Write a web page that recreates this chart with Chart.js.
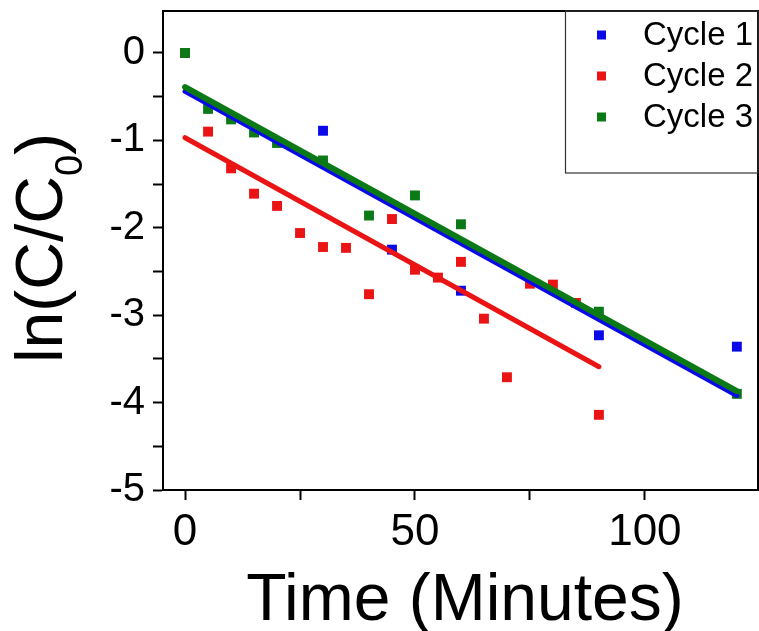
<!DOCTYPE html>
<html>
<head>
<meta charset="utf-8">
<script src="https://cdn.jsdelivr.net/npm/chart.js@4.4.1/dist/chart.umd.min.js"></script>
<style>
  html, body { margin: 0; padding: 0; background: #fff; overflow: hidden; }
  #wrap { width: 759px; height: 631px; overflow: hidden; }
  canvas { display: block; }
</style>
</head>
<body>
<div id="wrap"><canvas id="c" width="765" height="631"></canvas></div>
<script>
// values
const cycleNames = ['Cycle 1', 'Cycle 2', 'Cycle 3'];
const cycleColors = ['#0a0ae8', '#ea1414', '#0b7a16'];

const c1Time = [0, 30, 45, 60, 90, 120];
const c1Ln = [0, -0.89, -2.25, -2.72, -3.23, -3.36];

const c2Time = [0, 5, 10, 15, 20, 25, 30, 35, 40, 45, 50, 55, 60, 65, 70, 75, 80, 85, 90];
const c2Ln = [0, -0.90, -1.32, -1.61, -1.75, -2.06, -2.22, -2.23, -2.76, -1.90, -2.48, -2.57, -2.39, -3.04, -3.71, -2.64, -2.65, -2.86, -4.14];

const c3Time = [0, 5, 10, 15, 20, 30, 40, 50, 60, 90, 120];
const c3Ln = [0, -0.64, -0.76, -0.91, -1.03, -1.23, -1.86, -1.63, -1.96, -2.96, -3.90];

// linear fit end points
const fit1Time = [0, 120];
const fit1Ln = [-0.44, -3.92];
const fit2Time = [0, 90];
const fit2Ln = [-0.97, -3.59];
const fit3Time = [0, 120];
const fit3Ln = [-0.39, -3.87];

const xTickLabels = [0, 50, 100];
const yTickLabels = [0, -1, -2, -3, -4, -5];

const FONT = "'Liberation Sans', Arial, sans-serif";

function pts(xs, ys) {
  return xs.map((x, i) => ({ x: x, y: ys[i] }));
}

function scatterSet(i, xs, ys, order) {
  return {
    type: 'scatter',
    label: cycleNames[i],
    data: pts(xs, ys),
    pointStyle: 'rect',
    pointRadius: 7,
    pointBorderWidth: 0,
    backgroundColor: cycleColors[i],
    borderColor: cycleColors[i],
    order: order
  };
}

function fitSet(i, xs, ys, width, order) {
  return {
    type: 'line',
    label: cycleNames[i] + ' fit',
    data: pts(xs, ys),
    borderColor: cycleColors[i],
    borderWidth: width,
    borderCapStyle: 'round',
    pointRadius: 0,
    fill: false,
    order: order
  };
}

function noPad(s) {
  s.paddingTop = 0;
  s.paddingBottom = 0;
  s.paddingLeft = 0;
  s.paddingRight = 0;
}

// frame, legend box and axis titles
const extras = {
  id: 'extras',
  afterDraw(chart) {
    const ctx = chart.ctx;
    const a = chart.chartArea;
    ctx.save();
    ctx.strokeStyle = '#000';
    ctx.lineWidth = 2;
    ctx.beginPath();
    ctx.moveTo(a.left, a.top);
    ctx.lineTo(a.right, a.top);
    ctx.lineTo(a.right, a.bottom);
    ctx.stroke();

    // legend
    ctx.lineWidth = 1.2;
    ctx.strokeStyle = '#333';
    ctx.strokeRect(565.5, a.top, a.right - 565.5, 162);
    ctx.font = '33px ' + FONT;
    ctx.textBaseline = 'middle';
    ctx.textAlign = 'left';
    const rows = [35, 76, 117];
    cycleNames.forEach((name, i) => {
      ctx.fillStyle = cycleColors[i];
      ctx.fillRect(597, rows[i] - 4.5, 9, 9);
      ctx.fillStyle = '#000';
      ctx.fillText(name, 643, rows[i] + 1);
    });

    // x title
    ctx.font = '66px ' + FONT;
    ctx.textAlign = 'center';
    ctx.textBaseline = 'alphabetic';
    ctx.fillText('Time (Minutes)', 465, 620);

    // y title with subscript
    ctx.translate(62, 248);
    ctx.rotate(-Math.PI / 2);
    const main = 'ln(C/C';
    ctx.font = '66px ' + FONT;
    const w1 = ctx.measureText(main).width;
    ctx.font = '38px ' + FONT;
    const w2 = ctx.measureText('0').width;
    ctx.font = '66px ' + FONT;
    const w3 = ctx.measureText(')').width;
    let x0 = -(w1 + w2 + w3) / 2;
    ctx.textAlign = 'left';
    ctx.fillText(main, x0, 0);
    ctx.font = '38px ' + FONT;
    ctx.fillText('0', x0 + w1, 20);
    ctx.font = '66px ' + FONT;
    ctx.fillText(')', x0 + w1 + w2, 0);
    ctx.restore();
  }
};

new Chart(document.getElementById('c'), {
  data: {
    datasets: [
      fitSet(2, fit3Time, fit3Ln, 6, 0),
      fitSet(1, fit2Time, fit2Ln, 5, 1),
      fitSet(0, fit1Time, fit1Ln, 5, 2),
      scatterSet(2, c3Time, c3Ln, 3),
      scatterSet(1, c2Time, c2Ln, 4),
      scatterSet(0, c1Time, c1Ln, 5)
    ]
  },
  options: {
    responsive: false,
    animation: false,
    layout: { padding: { top: 11, right: 1, left: 0, bottom: 0 } },
    plugins: {
      legend: { display: false },
      tooltip: { enabled: false }
    },
    scales: {
      x: {
        type: 'linear',
        min: -4.8,
        max: 124.6,
        afterFit(s) { s.height = 141; noPad(s); },
        grid: { drawOnChartArea: false, drawTicks: true, tickLength: 10, tickColor: '#000', tickWidth: 2 },
        border: { display: true, color: '#000', width: 2 },
        ticks: {
          stepSize: 25,
          includeBounds: false,
          autoSkip: false,
          maxRotation: 0,
          padding: 6,
          color: '#000',
          font: { family: FONT, size: 44 },
          callback: v => xTickLabels.includes(v) ? String(v) : ''
        }
      },
      y: {
        type: 'linear',
        min: -5,
        max: 0.48,
        afterFit(s) { s.width = 163; noPad(s); },
        grid: { drawOnChartArea: false, drawTicks: true, tickLength: 10, tickColor: '#000', tickWidth: 2 },
        border: { display: true, color: '#000', width: 2 },
        ticks: {
          stepSize: 0.5,
          includeBounds: false,
          autoSkip: false,
          padding: 8,
          color: '#000',
          font: { family: FONT, size: 40 },
          callback: v => yTickLabels.includes(v) ? String(v) : ''
        }
      }
    }
  },
  plugins: [extras]
});
</script>
</body>
</html>
